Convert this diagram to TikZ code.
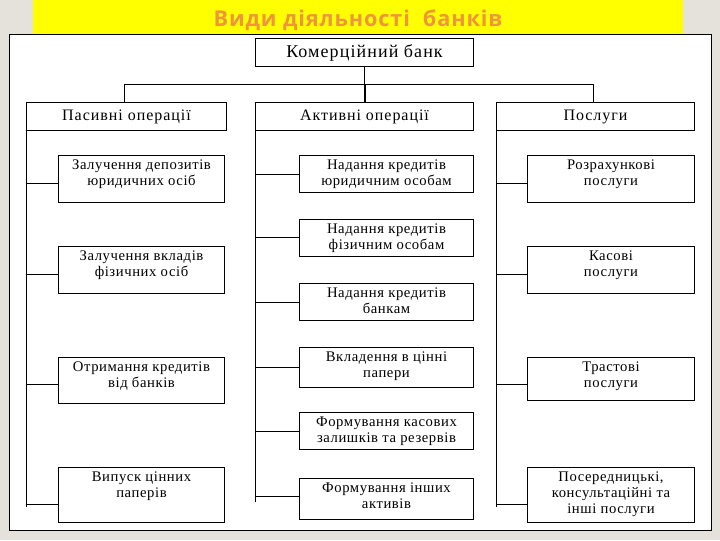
\documentclass[tikz,border=0pt]{standalone}
\usepackage{fontspec}
\newfontfamily\tnr[LetterSpace=6]{Liberation Serif}
\newfontfamily\tnrb[LetterSpace=4]{Liberation Serif}
\newfontfamily\ttl[LetterSpace=4]{Open Sans}
\newdimen\px \px=0.75pt
\definecolor{bg}{RGB}{229,226,219}
\definecolor{ttlc}{RGB}{238,150,60}
\definecolor{yel}{RGB}{255,255,0}
\begin{document}
\begin{tikzpicture}[x=0.75pt,y=-0.75pt,
  bx/.style={draw, line width=1\px, inner sep=0pt, anchor=north west},
  txt/.style={anchor=north, align=center, inner sep=0pt, yshift=-5\px, font={\tnrb\fontsize{11}{12}\selectfont}},
  lvl/.style={bx, minimum height=28\px, font={\tnr\fontsize{12}{14}\selectfont}},
  ln/.style={line width=1\px}]
\useasboundingbox (0,0) rectangle (720,540);
\fill[bg] (0,0) rectangle (720,540);
\fill[yel] (33,0) rectangle (683,33);
\node[anchor=base, inner sep=0pt, text=ttlc, font={\ttl\bfseries\fontsize{16.3}{18}\selectfont}] (title) at (358,26) {Види діяльності\ \ банків};
\fill[white] (9,34) rectangle (711,530);
\draw[line width=1\px] (9,34) rectangle (711,530);
% top levels
\node[bx, minimum width=218\px, minimum height=28\px, font={\tnr\fontsize{13.5}{16}\selectfont}] (kb) at (255,38) {Комерційний банк};
\node[lvl, minimum width=200\px] (pas) at (26,102) {Пасивні операції};
\node[lvl, minimum width=218\px] (akt) at (255,102) {Активні операції};
\node[lvl, minimum width=198\px] (pos) at (496,102) {Послуги};
\coordinate (hl) at (124,84);
\coordinate (hr) at (593,84);
\draw[ln] (kb.south) -- (kb.south |- hl);
\draw[line width=2\px] (kb.south |- hl) -- (akt.north);
\draw[ln] (pas.north -| hl) -- (hl) -- (hr) -- (pos.north -| hr);
% left column
\node[bx, minimum width=166\px, minimum height=47\px] (l1) at (58,155) {};
\node[bx, minimum width=166\px, minimum height=47\px] (l2) at (58,246) {};
\node[bx, minimum width=166\px, minimum height=46\px] (l3) at (58,357) {};
\node[bx, minimum width=166\px, minimum height=55\px] (l4) at (58,467) {};
\node[txt] (l1t) at (l1.north) {Залучення депозитів\\юридичних осіб};
\node[txt] (l2t) at (l2.north) {Залучення вкладів\\фізичних осіб};
\node[txt] (l3t) at (l3.north) {Отримання кредитів\\від банків};
\node[txt] (l4t) at (l4.north) {Випуск цінних\\паперів};
% middle column
\node[bx, minimum width=174\px, minimum height=37\px] (m1) at (299,155) {};
\node[bx, minimum width=174\px, minimum height=37\px] (m2) at (299,219) {};
\node[bx, minimum width=174\px, minimum height=37\px] (m3) at (299,283) {};
\node[bx, minimum width=174\px, minimum height=40\px] (m4) at (299,347) {};
\node[bx, minimum width=174\px, minimum height=37\px] (m5) at (299,412) {};
\node[bx, minimum width=174\px, minimum height=41\px] (m6) at (299,478) {};
\node[txt] (m1t) at (m1.north) {Надання кредитів\\юридичним особам};
\node[txt] (m2t) at (m2.north) {Надання кредитів\\фізичним особам};
\node[txt] (m3t) at (m3.north) {Надання кредитів\\банкам};
\node[txt] (m4t) at (m4.north) {Вкладення в цінні\\папери};
\node[txt] (m5t) at (m5.north) {Формування касових\\залишків та резервів};
\node[txt] (m6t) at (m6.north) {Формування інших\\активів};
% right column
\node[bx, minimum width=167\px, minimum height=47\px] (r1) at (527,155) {};
\node[bx, minimum width=167\px, minimum height=47\px] (r2) at (527,246) {};
\node[bx, minimum width=167\px, minimum height=43\px] (r3) at (527,357) {};
\node[bx, minimum width=167\px, minimum height=55\px] (r4) at (527,467) {};
\node[txt] (r1t) at (r1.north) {Розрахункові\\послуги};
\node[txt] (r2t) at (r2.north) {Касові\\послуги};
\node[txt] (r3t) at (r3.north) {Трастові\\послуги};
\node[txt] (r4t) at (r4.north) {Посередницькі,\\консультаційні та\\інші послуги};
% buses
\coordinate (le) at (26,507);
\coordinate (me) at (255,502);
\coordinate (re) at (496,507);
\draw[ln] (pas.south west) -- (le);
\draw[ln] (akt.south west) -- (me);
\draw[ln] (pos.south west) -- (re);
\foreach \n/\yy in {l1/183,l2/274,l3/384,l4/504}{
  \coordinate (b\n) at (26,\yy);
  \draw[ln] (b\n) -- (b\n -| \n.west);}
\foreach \n/\yy in {m1/174,m2/237,m3/302,m4/367,m5/431,m6/496}{
  \coordinate (b\n) at (255,\yy);
  \draw[ln] (b\n) -- (b\n -| \n.west);}
\foreach \n/\yy in {r1/183,r2/274,r3/384,r4/504}{
  \coordinate (b\n) at (496,\yy);
  \draw[ln] (b\n) -- (b\n -| \n.west);}
\end{tikzpicture}
\end{document}
